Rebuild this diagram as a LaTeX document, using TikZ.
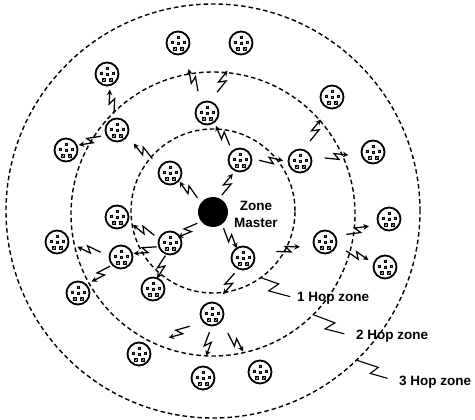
\documentclass[tikz,border=0pt]{standalone}
\usepackage{fontspec}
\setmainfont{Liberation Sans}
\usetikzlibrary{calc,arrows.meta}
\newcommand\myzap[3]{%
  \draw[bolt] let \p1=($(#2)-(#1)$), \n1={atan2(\y1,\x1)}, \p2=($(#1)!#3!(#2)$) in
    [shift={(\p2)}, rotate=\n1] (-12,0) -- (2.2,3.2) -- (-2.2,-3.2) -- (12,0);}
\begin{document}
\begin{tikzpicture}[x=1pt,y=-1pt,
  ring/.style={circle, draw, inner sep=0pt, line width=1.4pt, dash pattern=on 4.5pt off 3pt},
  sensor/.style={circle, draw, line width=1.8pt, minimum size=23pt, inner sep=0pt, fill=white,
    path picture={
      \foreach \dx/\dy in {0/6, -6/1, 6/1, -3.6/-5.4, 3.6/-5.4, 0/0}{
        \draw[line width=0.35pt, fill=gray!40] ([xshift=\dx pt, yshift=\dy pt]path picture bounding box.center) ++(-1.3pt,-1.3pt) rectangle ++(2.6pt,2.6pt);
        \draw[line width=0.3pt] ([xshift=\dx pt, yshift=\dy pt]path picture bounding box.center) ++(-1.3pt,-1.3pt) -- ++(2.6pt,2.6pt) ++(-2.6pt,0) -- ++(2.6pt,-2.6pt);
      }}},
  master/.style={circle, fill=black, minimum size=30pt, inner sep=0pt},
  bolt/.style={line width=1.25pt, line join=miter, -{Stealth[length=5.5pt,width=5.5pt]}},
  lbl/.style={font=\fontsize{13.5}{17}\selectfont\bfseries, inner sep=0pt},
  lead/.style={line width=1.1pt}]
\useasboundingbox (0,0) rectangle (475,420);
% rings
\node[ring, minimum size=414pt] (r3) at (213,211) {};
\node[ring, minimum size=284pt] (r2) at (213,214) {};
\node[ring, minimum size=164pt] (r1) at (213,211) {};
% master
\node[master] (m) at (213,212) {};
\node[lbl, align=center] (zm) at (256,214) {Zone\\Master};
% sensors
\node[sensor] (n1) at (178,43) {};
\node[sensor] (n2) at (241,43) {};
\node[sensor] (n3) at (107,74) {};
\node[sensor] (n4) at (207,113) {};
\node[sensor] (n5) at (117,130) {};
\node[sensor] (n6) at (66,150) {};
\node[sensor] (n7) at (240,160) {};
\node[sensor] (n8) at (170,173) {};
\node[sensor] (n9) at (332,97) {};
\node[sensor] (n10) at (300,161) {};
\node[sensor] (n11) at (373,152) {};
\node[sensor] (n12) at (117,217) {};
\node[sensor] (n13) at (57,242) {};
\node[sensor] (n14) at (121,257) {};
\node[sensor] (n15) at (170,243) {};
\node[sensor] (n16) at (78,293) {};
\node[sensor] (n17) at (153,289) {};
\node[sensor] (n18) at (212,314) {};
\node[sensor] (n19) at (139,354) {};
\node[sensor] (n20) at (203,378) {};
\node[sensor] (n21) at (243,258) {};
\node[sensor] (n22) at (325,242) {};
\node[sensor] (n23) at (389,219) {};
\node[sensor] (n24) at (385,267) {};
\node[sensor] (n25) at (260,372) {};
% bolts
\myzap{n4}{n1}{0.47}
\myzap{n4}{n2}{0.45}
\myzap{n5}{n3}{0.51}
\myzap{n5}{n6}{0.53}
\myzap{n8}{n5}{0.51}
\myzap{n7}{n4}{0.52}
\myzap{m}{n8}{0.57}
\myzap{m}{n7}{0.53}
\myzap{n7}{n10}{0.52}
\myzap{n10}{n9}{0.48}
\myzap{n10}{n11}{0.50}
\myzap{n14}{n13}{0.50}
\myzap{n14}{n16}{0.47}
\myzap{n15}{n12}{0.50}
\myzap{n15}{n14}{0.51}
\myzap{n15}{n17}{0.52}
\myzap{m}{n15}{0.59}
\myzap{m}{n21}{0.57}
\myzap{n21}{n18}{0.46}
\myzap{n21}{n22}{0.55}
\myzap{n22}{n23}{0.51}
\myzap{n22}{n24}{0.54}
\myzap{n18}{n19}{0.45}
\myzap{n18}{n20}{0.47}
\myzap{n18}{n25}{0.49}
% labels
\node[lbl, anchor=base west] (l1) at (297,301.7) {1 Hop zone};
\node[lbl, anchor=base west] (l2) at (356,340) {2 Hop zone};
\node[lbl, anchor=base west] (l3) at (399,385) {3 Hop zone};
\draw[lead, shorten >=7pt] (r1.-54) -- ++(17,6) -- ++(-10,7) -- (l1.west);
\draw[lead, shorten >=12pt] (r2.-45) -- ++(21,8) -- ++(-10,6) -- (l2.west);
\draw[lead, shorten >=12pt] (r3.-46) -- ++(21,7) -- ++(-8,6) -- (l3.west);
\end{tikzpicture}
\end{document}
